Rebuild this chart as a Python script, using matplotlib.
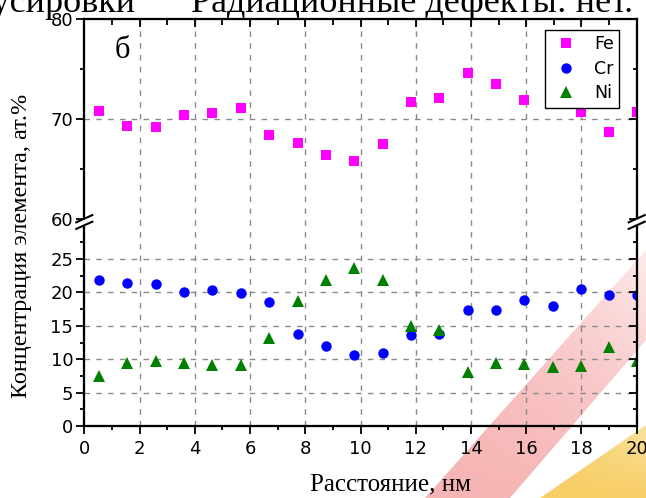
import numpy as np
import matplotlib.pyplot as plt
from matplotlib.lines import Line2D
from matplotlib.patches import Polygon, Rectangle

plt.rcParams['font.family'] = ['DejaVu Sans']
SERIF = ['Liberation Serif', 'DejaVu Serif']

# distance, nm
dist = [0.53, 1.56, 2.59, 3.61, 4.64, 5.67, 6.69, 7.72, 8.75, 9.77,
        10.80, 11.83, 12.85, 13.88, 14.91, 15.93, 16.96, 17.99, 19.01, 20.02]
# concentration, at.%
fe = [70.8, 69.3, 69.2, 70.4, 70.6, 71.1, 68.4, 67.6, 66.4, 65.8,
      67.5, 71.7, 72.1, 74.6, 73.5, 71.9, 73.1, 70.7, 68.7, 70.7]
cr = [21.8, 21.4, 21.3, 20.1, 20.3, 19.9, 18.5, 13.8, 12.0, 10.7,
      11.0, 13.6, 13.7, 17.4, 17.3, 18.9, 18.0, 20.5, 19.6, 19.6]
ni = [7.5, 9.5, 9.7, 9.5, 9.2, 9.1, 13.2, 18.7, 21.8, 23.6,
      21.8, 14.9, 14.3, 8.1, 9.5, 9.3, 8.9, 9.0, 11.9, 9.8]

y_major = [0, 5, 10, 15, 20, 25, 60, 70, 80]
y_minor = [2.5, 7.5, 12.5, 17.5, 22.5, 27.5, 65, 75]
y_grid = [5, 10, 15, 20, 25, 70]
x_grid = [2, 4, 6, 8, 10, 12, 14, 16, 18]

# broken y axis: 0..30.5 and 60..80, squeezed gap in between
LO, HI = 30.5, 60.0
A, B = 6.68, 9.955
P_LO, P_HI = LO * A, 207.4


def fwd(v):
    v = np.asarray(v, float)
    mid = P_LO + (v - LO) * (P_HI - P_LO) / (HI - LO)
    return np.where(v <= LO, v * A, np.where(v >= HI, P_HI + (v - HI) * B, mid))


def inv(p):
    p = np.asarray(p, float)
    mid = LO + (p - P_LO) * (HI - LO) / (P_HI - P_LO)
    return np.where(p <= P_LO, p / A, np.where(p >= P_HI, HI + (p - P_HI) / B, mid))


W, H = 646, 498
fig = plt.figure(figsize=(W / 100, H / 100), dpi=100)
fig.patch.set_facecolor('white')

# slide decoration in the background (pixel coords, faded bands)
bg = fig.add_axes([0, 0, 1, 1], zorder=-1)
bg.set_xlim(0, W)
bg.set_ylim(H, 0)
bg.axis('off')


def band(pts, rgb, a0, a1, box):
    x0, x1, y0, y1 = box
    gx, gy = np.meshgrid(np.linspace(0, 1, 80), np.linspace(0, 1, 80))
    t = np.clip((gx + gy) / 2, 0, 1)  # 1 at bottom-left, 0 at top-right
    img = np.zeros((80, 80, 4))
    img[..., :3] = np.array(rgb) / 255
    img[..., 3] = a1 + (a0 - a1) * (1 - (gx * (1 - gy)))
    im = bg.imshow(img, extent=(x0, x1, y1, y0), origin='upper', interpolation='bilinear')
    poly = Polygon(pts, closed=True, transform=bg.transData, fc='none', ec='none')
    bg.add_patch(poly)
    im.set_clip_path(poly)


band([(425, H), (510, H), (W, 340), (W, 250)], (240, 120, 120), 0.55, 0.15, (420, W, 250, H))
band([(540, H), (W, H), (W, 425)], (245, 190, 50), 0.75, 0.45, (535, W, 420, H))
bg.set_xlim(0, W)
bg.set_ylim(H, 0)

L, R, T, Bt = 84.3, 636.7, 19.5, 426.0
ax = fig.add_axes([L / W, 1 - Bt / H, (R - L) / W, (Bt - T) / H])
ax.set_facecolor('none')
ax.set_yscale('function', functions=(fwd, inv))
ax.set_xlim(0, 20)
ax.set_ylim(0, 80)

for xv in x_grid:
    ax.axvline(xv, color='#8a8a8a', lw=1.0, ls=(0, (4, 4.5)), zorder=0.5)
for yv in y_grid:
    ax.axhline(yv, color='#8a8a8a', lw=1.0, ls=(0, (4, 4.5)), zorder=0.5)

ax.plot(dist, fe, ls='none', marker='s', ms=6.8, mew=0, color='#ff00ff', label='Fe', zorder=3)
ax.plot(dist, cr, ls='none', marker='o', ms=7.5, mew=0, color='#0000ff', label='Cr', zorder=3)
ax.plot(dist, ni, ls='none', marker='^', ms=8.2, mew=0, color='#008000', label='Ni', zorder=3)

ax.set_xticks(range(0, 21, 2))
ax.set_xticks(range(1, 20, 2), minor=True)
ax.set_yticks(y_major)
ax.set_yticks(y_minor, minor=True)
ax.set_yticklabels([str(v) for v in y_major])
ax.tick_params(which='both', direction='out', width=1.3, labelsize=13)
ax.tick_params(axis='y', pad=2.5)
ax.tick_params(axis='x', pad=4.5)
ax.tick_params(which='major', length=5.5)
ax.tick_params(which='minor', length=3)
for sp in ax.spines.values():
    sp.set_linewidth(1.5)

axr = ax.twinx()
axr.set_yscale('function', functions=(fwd, inv))
axr.set_ylim(0, 80)
axr.set_yticks(y_major)
axr.set_yticks(y_minor, minor=True)
axr.tick_params(which='both', direction='in', width=1.3, labelright=False)
axr.tick_params(which='major', length=5.5)
axr.tick_params(which='minor', length=3)

axt = ax.twiny()
axt.set_xlim(0, 20)
axt.set_xticks(range(0, 21, 2))
axt.set_xticks(range(1, 20, 2), minor=True)
axt.tick_params(which='both', direction='in', width=1.3, labeltop=False)
axt.tick_params(which='major', length=5.5)
axt.tick_params(which='minor', length=4)
for a in (axr, axt):
    for sp in a.spines.values():
        sp.set_linewidth(1.5)

leg = ax.legend(loc='upper right', bbox_to_anchor=(0.968, 0.974), borderaxespad=0,
                fancybox=False, framealpha=1, edgecolor='black', fontsize=12.5,
                handlelength=1.8, handletextpad=0.7, labelspacing=0.38,
                borderpad=0.3, numpoints=1)
leg.get_frame().set_linewidth(1.0)
leg.set_zorder(10)

# axis break marks on both sides
yb = 222.0
for xs in (L, R):
    fig.add_artist(Rectangle(((xs - 3) / W, 1 - (yb + 3.3) / H), 6 / W, 6.6 / H,
                             transform=fig.transFigure, fc='white', ec='none', zorder=5))
    for dy in (-3.3, 3.3):
        fig.add_artist(Line2D([(xs - 8) / W, (xs + 8) / W],
                              [1 - (yb + dy + 3.6) / H, 1 - (yb + dy - 3.6) / H],
                              transform=fig.transFigure, color='black', lw=1.5, zorder=6))

fig.text(22 / W, 1 - 246 / H, 'Концентрация элемента, ат.%', rotation=90,
         ha='center', va='center', fontsize=17.5, family=SERIF)
fig.text(390 / W, 1 - 484 / H, 'Расстояние, нм', ha='center', va='center',
         fontsize=18, family=SERIF)
fig.text(122 / W, 1 - 51 / H, 'б', ha='center', va='center', fontsize=22, family=SERIF)

# clipped slide title above the chart
fig.text(136 / W, 1 - 12 / H, 'фокусировки', ha='right', va='baseline', fontsize=26, family=SERIF)
fig.text(191 / W, 1 - 12 / H, 'Радиационные дефекты: нет.', ha='left', va='baseline',
         fontsize=26, family=SERIF)

fig.savefig('out.png', dpi=100)
